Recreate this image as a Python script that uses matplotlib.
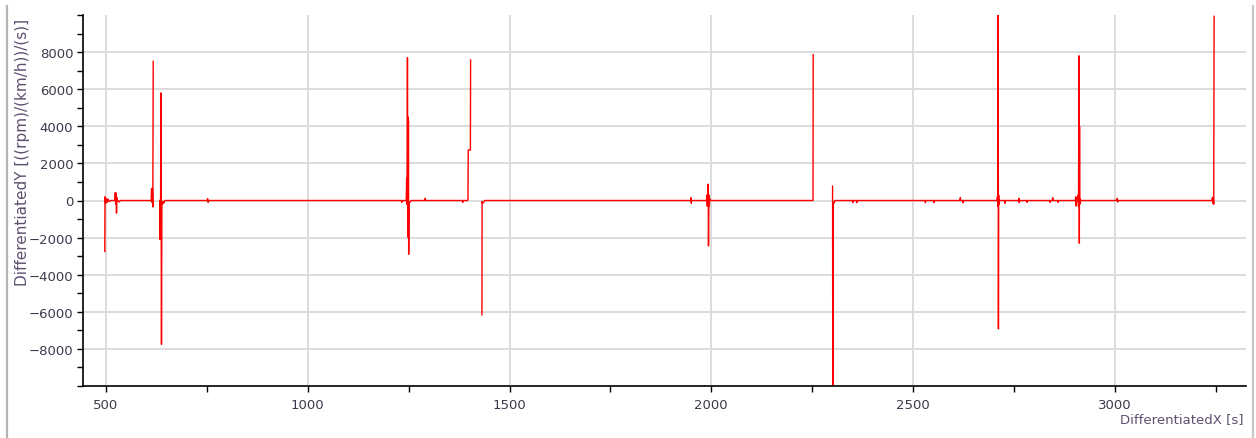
import numpy as np
import matplotlib
matplotlib.use("Agg")
import matplotlib.pyplot as plt
from matplotlib.lines import Line2D
from matplotlib.ticker import MultipleLocator

# trace (NaN = gap in the recording)
nan = np.nan
time_s = [497, 497.5, 499, 501, 503, 505, 508, 512, 522, 523, 524, 525, 526, 527, 529, 533, 535,
          612, 613, 614, 615, 616, 617, nan,
          633, 634, 634.5, 635, 636, 637.5, 638.5, 639.5, 641, 643, 646, 750, 752, 753, 755,
          1232, 1233, 1234, 1244, 1245, 1245.5, 1246, 1247, 1248, 1248.5, 1249, 1249.5, 1250,
          1250.5, 1251, 1252, 1254, 1256, 1290, 1291, 1292, 1383, 1384, 1385, 1396, 1397,
          1397.6, 1403, 1403.5, nan,
          1431.6, 1432, 1433, 1436, 1438, 1949, 1949.6, 1950.5, 1951, 1988, 1989, 1990, 1991,
          1992.3, 1993, 1994, 1995, 1996, 1998, 2252, 2252.5, nan,
          2300.5, 2301, 2302, 2304, 2306, 2350, 2350.5, 2351, 2360, 2360.5, 2361, 2530, 2530.5,
          2531, 2551, 2551.5, 2552, 2616, 2617, 2618, 2623, 2623.5, 2624, 2708, 2709, 2710,
          2711, 2711.5, 2712, 2713, 2714, 2727, 2727.5, 2728, 2762, 2762.5, 2763, 2764, 2782,
          2782.5, 2783, 2839, 2839.5, 2840, 2845, 2846, 2847, 2859, 2859.5, 2860, 2902, 2903,
          2904, 2906, 2908, 2909, 2910, 2911, 2911.5, 2912, 2912.5, 2913, 2914, 2916, 2918,
          3005, 3006, 3007, 3008, 3010, 3240, 3242, 3243, 3244, 3245, 3246]
diff_y = [-2750, 200, -150, 100, -100, 80, -60, 0, 0, 430, -200, 400, -680, 150, 0, -80, 0,
          0, 650, -100, 650, -350, 7500, nan,
          0, -2100, 0, -2100, 5800, -7750, -100, -200, -50, -150, 0, 0, 100, -100, 0,
          0, -100, 0, 0, 1200, -200, 1200, 7700, -200, 4500, -2000, 4300, -2900,
          -2000, -200, -100, -80, 0, 0, 120, 0, 0, -100, 0, 0, 50,
          2720, 2720, 7580, nan,
          -6160, -50, -150, -100, 0, 0, 150, -150, 0, 0, 300, -300, 200,
          880, -2450, 300, -300, 100, 0, 0, 7860, nan,
          775, -11000, -100, -150, 0, 0, -120, 0, 0, -120, 0, 0, -120,
          0, 0, -120, 0, 0, 150, 0, 0, -120, 0, 0, 200, -300,
          10500, -6920, 300, -200, 0, 0, -150, 0, 0, 120, -120, 0, 0,
          -100, 0, 0, -100, 0, 0, 150, 0, 0, -100, 0, 0, 200,
          -300, 150, 0, 300, -300, 7800, 4200, -2300, 4000, -200, 100, 0, 0,
          0, 120, -80, 0, 0, 0, 150, -150, 200, -200, 9930]

y_ticks = [-8000, -6000, -4000, -2000, 0, 2000, 4000, 6000, 8000]

fig = plt.figure(figsize=(12.56, 4.39), dpi=100)
ax = fig.add_axes([83 / 1256, 1 - 387 / 439, (1246 - 83) / 1256, (387 - 16) / 439])

ax.plot(time_s, diff_y, color="#ff0000", lw=1.0, antialiased=True)

ax.set_xlim(443, 3325)
ax.set_ylim(-10000, 10000)
ax.xaxis.set_major_locator(MultipleLocator(500))
ax.xaxis.set_minor_locator(MultipleLocator(250))
ax.set_yticks(y_ticks)
ax.yaxis.set_minor_locator(MultipleLocator(1000))
ax.grid(True, which="major", color="#dcdcdc", lw=1.4)
ax.set_axisbelow(True)

for side in ["top", "right"]:
    ax.spines[side].set_visible(False)
for side in ["left", "bottom"]:
    ax.spines[side].set_color("#000000")
    ax.spines[side].set_linewidth(1.2)

tick_col = "#3c3a4c"
ax.tick_params(axis="both", which="both", direction="out", length=4, width=1,
               color="#000000", labelcolor=tick_col, labelsize=9.5)
ax.tick_params(axis="x", which="both", pad=5)
ax.tick_params(axis="y", which="both", pad=3)

fig.text(23 / 1256, 1 - 19 / 439, "DifferentiatedY [((rpm)/(km/h))/(s)]", rotation=90,
         ha="center", va="top", fontsize=11, color="#5e5070")
fig.text(1243 / 1256, 1 - 420 / 439, "DifferentiatedX [s]", ha="right", va="center",
         fontsize=9.5, color="#5e5070")

# grey frame edges
fig.add_artist(Line2D([7 / 1256, 7 / 1256], [0, 1 - 7 / 439], color="#b4b4b4", lw=1.6))
fig.add_artist(Line2D([1253 / 1256, 1253 / 1256], [0, 1 - 7 / 439], color="#c8c8c8", lw=1.6))

fig.savefig("out.png", dpi=100)
